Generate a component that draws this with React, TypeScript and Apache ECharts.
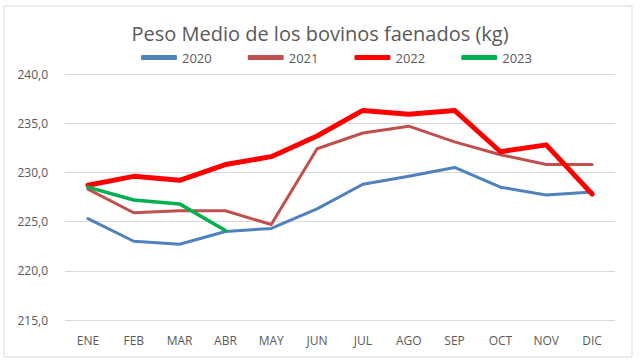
import React, { useEffect, useRef } from "react";
import * as echarts from "echarts";

const months = ["ENE", "FEB", "MAR", "ABR", "MAY", "JUN", "JUL", "AGO", "SEP", "OCT", "NOV", "DIC"];
const s2020 = [225.3, 223.0, 222.7, 224.0, 224.3, 226.3, 228.8, 229.6, 230.5, 228.5, 227.7, 228.0];
const s2021 = [228.3, 225.9, 226.1, 226.1, 224.7, 232.4, 234.0, 234.7, 233.1, 231.8, 230.8, 230.8];
const s2022 = [228.7, 229.6, 229.2, 230.8, 231.6, 233.7, 236.3, 235.9, 236.3, 232.1, 232.8, 227.8];
const s2023 = [228.5, 227.2, 226.8, 224.1];
const seriesNames = ["2020", "2021", "2022", "2023"];
const colors = ["#4F81BD", "#C0504D", "#FF0000", "#00B050"];
const widths = [3, 3, 5, 3.5];

export default function App() {
  const ref = useRef<HTMLDivElement>(null);
  useEffect(() => {
    document.body.style.margin = "0";
    const chart = echarts.init(ref.current!, undefined, { renderer: "svg" });
    const data = [s2020, s2021, s2022, s2023];
    const font = "'Open Sans', sans-serif";
    chart.setOption({
      animation: false,
      backgroundColor: "#ffffff",
      title: {
        text: "Peso Medio de los bovinos faenados (kg)",
        left: "center",
        top: 18,
        textStyle: { fontFamily: font, fontSize: 20, fontWeight: "normal", color: "#595959" },
      },
      legend: {
        top: 46,
        left: 136,
        itemWidth: 36,
        itemHeight: 5,
        itemGap: 36,
        icon: "roundRect",
        textStyle: { fontFamily: font, fontSize: 13, color: "#595959" },
        data: seriesNames,
      },
      graphic: [
        {
          type: "rect",
          shape: { x: 4, y: 6, width: 628, height: 351 },
          style: { fill: "none", stroke: "#d9d9d9", lineWidth: 1 },
          silent: true,
        },
      ],
      grid: { left: 65, right: 25, top: 74, bottom: 43 },
      xAxis: {
        type: "category",
        data: months,
        boundaryGap: true,
        axisLine: { show: false },
        axisTick: { show: false },
        axisLabel: { margin: 14, fontFamily: font, fontSize: 12, color: "#595959" },
      },
      yAxis: {
        type: "value",
        min: 215,
        max: 240,
        interval: 5,
        axisLine: { show: false },
        axisTick: { show: false },
        splitLine: { lineStyle: { color: "#d9d9d9", width: 1 } },
        axisLabel: {
          margin: 17,
          fontFamily: font,
          fontSize: 12,
          color: "#595959",
          formatter: (v: number) => v.toFixed(1).replace(".", ","),
        },
      },
      series: seriesNames.map((n, i) => ({
        name: n,
        type: "line",
        data: data[i],
        symbol: "none",
        color: colors[i],
        lineStyle: { color: colors[i], width: widths[i], cap: "round", join: "round" },
        z: i === 2 ? 3 : i === 3 ? 4 : 2,
      })),
    });
    return () => chart.dispose();
  }, []);
  return <div ref={ref} style={{ width: 640, height: 363 }} />;
}
